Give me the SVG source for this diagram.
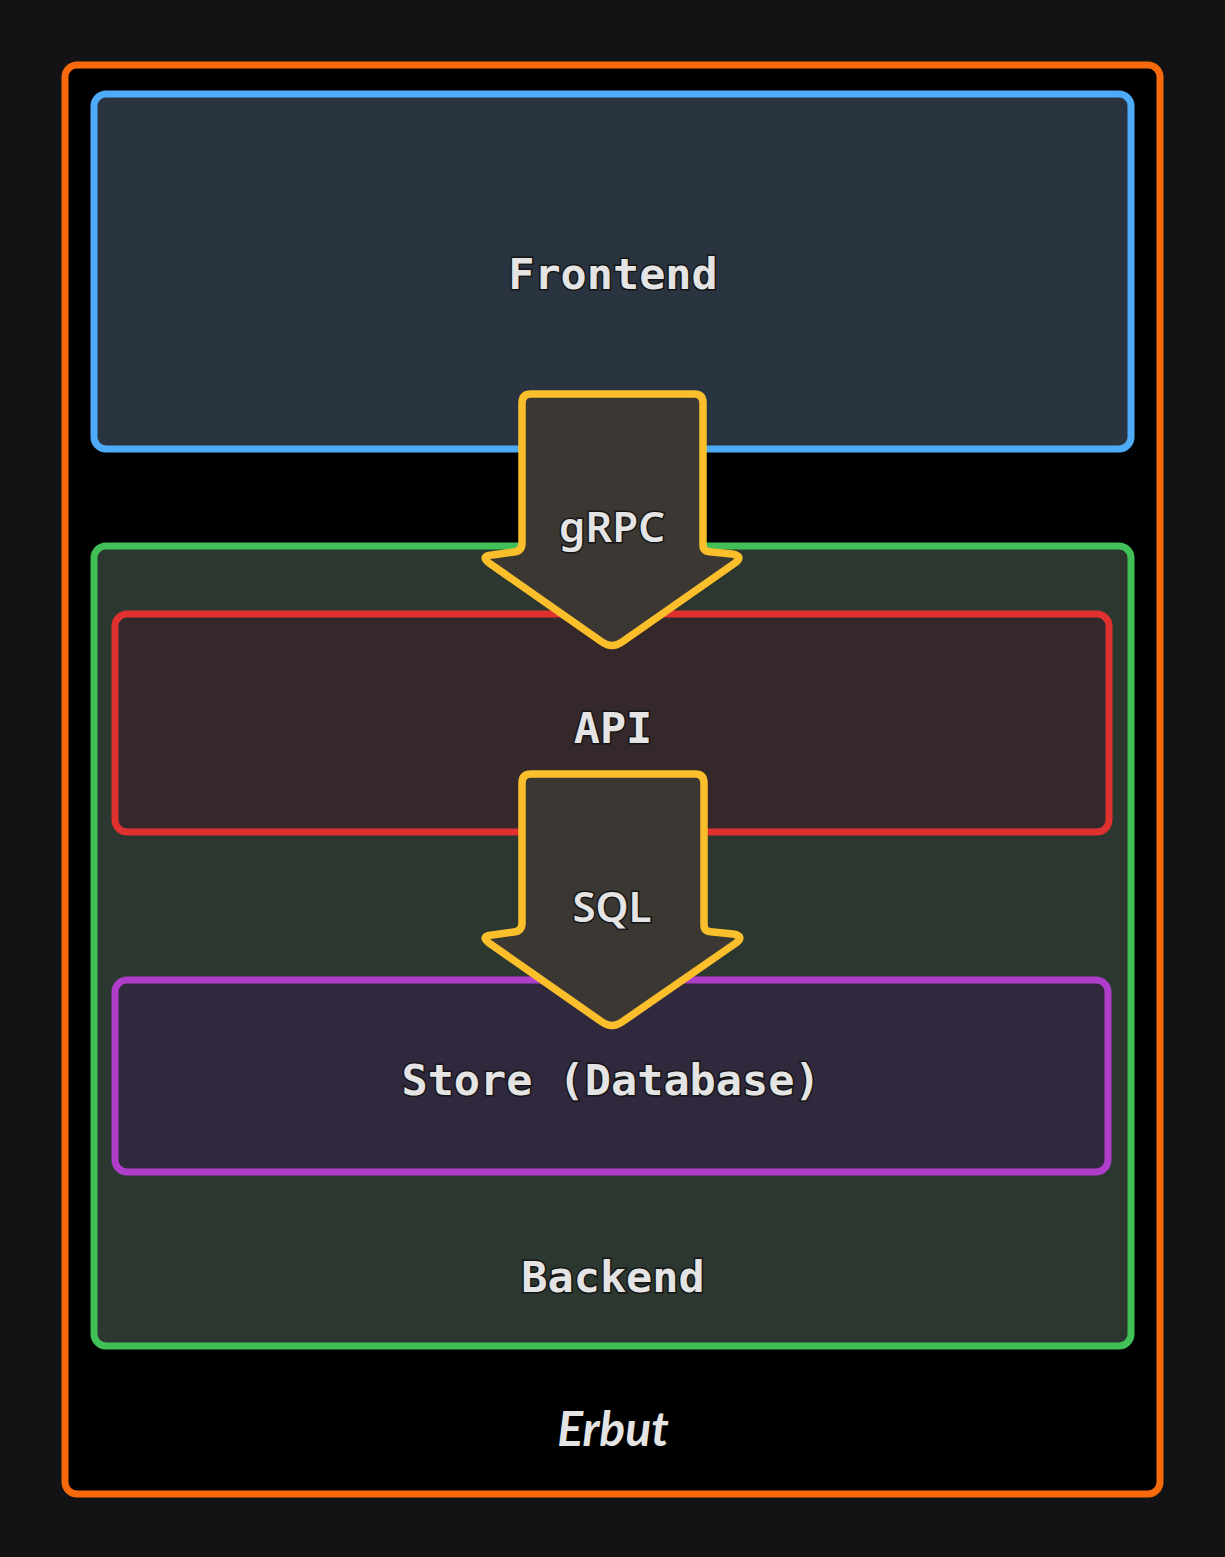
<svg xmlns="http://www.w3.org/2000/svg" width="1225" height="1557" viewBox="0 0 1225 1557">
<style>
.box{stroke-width:7;stroke-linejoin:round}
.lbl{font-family:"DejaVu Sans Mono","Liberation Mono",monospace;font-size:43.5px;font-weight:bold;fill:#e4e4e4;text-anchor:middle;stroke:#151515;stroke-width:3;paint-order:stroke}
.edge{font-family:"Noto Sans","Open Sans",sans-serif;font-size:42px;font-weight:600;fill:#e4e4e4;text-anchor:middle;stroke:#151515;stroke-width:3;paint-order:stroke}
.arrow{fill:#3b3833;stroke:#fbbf2c;stroke-width:7.5;stroke-linejoin:round}
</style>
<rect width="1225" height="1557" fill="#131316"/>
<g id="erbut">
<rect class="box" x="65" y="65" width="1095" height="1429" rx="12" fill="#000000" stroke="#f76a0c"/>
<text x="613" y="1446" font-family="Lato,'Noto Sans',sans-serif" font-size="48" font-weight="bold" font-style="italic" fill="#e4e4e4" text-anchor="middle">Erbut</text>
</g>
<g id="frontend">
<rect class="box" x="94" y="94" width="1037" height="355" rx="12" fill="#2a3441" stroke="#4dabf7"/>
<text class="lbl" x="613" y="289">Frontend</text>
</g>
<g id="backend">
<rect class="box" x="94" y="546" width="1037" height="800" rx="12" fill="#2b372f" stroke="#40c057"/>
<text class="lbl" x="613" y="1292">Backend</text>
</g>
<g id="api">
<rect class="box" x="115" y="614" width="994" height="218" rx="12" fill="#35282a" stroke="#e03131"/>
<text class="lbl" x="613" y="743">API</text>
</g>
<g id="store">
<rect class="box" x="115" y="980" width="993" height="192" rx="12" fill="#30293e" stroke="#ae3ec9"/>
<text class="lbl" x="611" y="1095">Store (Database)</text>
</g>
<g id="connectors">
<g id="grpc">
<path class="arrow" d="M531 394 L694 394 Q703 394 703 403 L703 545 Q703 552 712 552 L732 554 Q744 556 735 563 L622 642 Q612 649 602 642 L489 563 Q480 556 492 555 L514 552 Q522 551 522 543 L522 403 Q522 394 531 394 Z"/>
<text class="edge" x="612" y="542">gRPC</text>
</g>
<g id="sql">
<path class="arrow" d="M531 774 L695 774 Q704 774 704 783 L704 925 Q704 932 713 932 L733 934 Q745 936 736 943 L622 1022 Q612 1029 602 1022 L489 943 Q480 936 492 935 L514 932 Q522 931 522 923 L522 783 Q522 774 531 774 Z"/>
<text class="edge" x="612" y="922">SQL</text>
</g>
</g>
</svg>
